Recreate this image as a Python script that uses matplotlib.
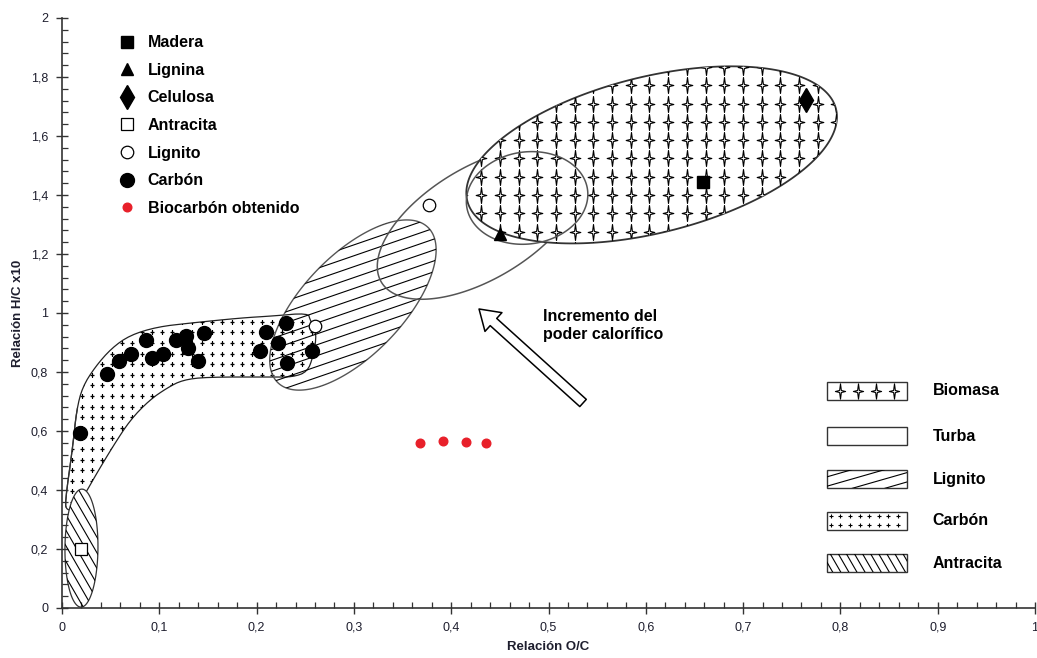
import numpy as np
import matplotlib
matplotlib.use("Agg")
import matplotlib.pyplot as plt
from matplotlib.patches import Polygon
from matplotlib.collections import LineCollection
from matplotlib.path import Path
from matplotlib.ticker import MultipleLocator, FuncFormatter

# ---------------------------------------------------------------- data
# Reference materials (O/C ratio, H/C ratio x10)
madera_oc, madera_hc = [0.659], [1.444]
lignina_oc, lignina_hc = [0.450], [1.268]
celulosa_oc, celulosa_hc = [0.765], [1.722]
antracita_oc, antracita_hc = [0.020], [0.200]
lignito_oc, lignito_hc = [0.377, 0.260], [1.366, 0.955]
carbon_oc = [0.019, 0.046, 0.059, 0.071, 0.086, 0.092, 0.104, 0.117, 0.127,
             0.129, 0.140, 0.146, 0.203, 0.210, 0.222, 0.230, 0.231, 0.257]
carbon_hc = [0.592, 0.793, 0.837, 0.860, 0.907, 0.847, 0.860, 0.908, 0.922,
             0.880, 0.837, 0.931, 0.872, 0.934, 0.899, 0.965, 0.832, 0.871]
# Biochar produced
biocarbon_oc = [0.368, 0.392, 0.415, 0.436]
biocarbon_hc = [0.558, 0.567, 0.563, 0.558]

# Fuel regions: ellipse centre in (O/C, H/C), semi-axes in px, tilt in deg
biomasa_center, biomasa_semi, biomasa_angle = (0.606, 1.536), (190, 78), 14
turba_center, turba_semi, turba_angle = (0.4296, 1.305), (115, 56), 31
turba_inner_center, turba_inner_semi, turba_inner_angle = (0.478, 1.390), (61, 46), 8
lignito_center, lignito_semi, lignito_angle = (0.299, 1.027), (108, 50), 46
antracita_center, antracita_semi, antracita_angle = (0.020, 0.203), (59, 16.5), 89.5

# Coal band outline (O/C, H/C)
carbon_band_oc = [0.005, 0.003, 0.011, 0.015, 0.021, 0.034, 0.051, 0.070, 0.098,
                  0.132, 0.183, 0.217, 0.253, 0.255, 0.262, 0.258, 0.252, 0.237,
                  0.217, 0.149, 0.124, 0.108, 0.090, 0.070, 0.052, 0.036, 0.026,
                  0.018, 0.013]
carbon_band_hc = [0.332, 0.356, 0.546, 0.671, 0.749, 0.817, 0.881, 0.925, 0.953,
                  0.966, 0.983, 0.990, 1.000, 0.976, 0.932, 0.851, 0.800, 0.783,
                  0.783, 0.783, 0.773, 0.746, 0.705, 0.637, 0.546, 0.458, 0.400,
                  0.356, 0.332]

region_labels = ["Biomasa", "Turba", "Lignito", "Carbón", "Antracita"]

# ---------------------------------------------------------------- figure
W, H = 1037, 658
fig = plt.figure(figsize=(W / 100, H / 100), dpi=100)
ax = fig.add_axes([62 / W, 50 / H, 973 / W, 590 / H])
ax.set_xlim(0, 1)
ax.set_ylim(0, 2)

pos = ax.get_position()
SX = pos.width * W / 1.0     # px per O/C unit
SY = pos.height * H / 2.0    # px per H/C unit

SANS = ["Liberation Sans", "DejaVu Sans"]
BOLD = dict(family=SANS, fontweight="bold")


def ellipse_xy(center, semi, angle, n=240):
    t = np.linspace(0, 2 * np.pi, n)
    a, b = semi
    phi = np.deg2rad(angle)
    u, v = a * np.cos(t), b * np.sin(t)
    dx = u * np.cos(phi) - v * np.sin(phi)
    dy = u * np.sin(phi) + v * np.cos(phi)
    return np.column_stack([center[0] + dx / SX, center[1] + dy / SY])


def chaikin(pts, it=2):
    for _ in range(it):
        p = np.asarray(pts)
        q = np.roll(p, -1, axis=0)
        pts = np.empty((2 * len(p), 2))
        pts[0::2] = 0.75 * p + 0.25 * q
        pts[1::2] = 0.25 * p + 0.75 * q
    return pts


def hatch(patch, verts, angle, spacing, lw=0.8, color="black", z=2):
    """Parallel lines at a display-space angle, clipped to a patch."""
    px = np.column_stack([verts[:, 0] * SX, verts[:, 1] * SY])
    c = px.mean(axis=0)
    r = np.max(np.hypot(*(px - c).T)) + spacing
    phi = np.deg2rad(angle)
    d = np.array([np.cos(phi), np.sin(phi)])
    nrm = np.array([-d[1], d[0]])
    segs = []
    for k in np.arange(-r, r + spacing, spacing):
        p0 = c + nrm * k - d * r
        p1 = c + nrm * k + d * r
        segs.append([(p0[0] / SX, p0[1] / SY), (p1[0] / SX, p1[1] / SY)])
    lc = LineCollection(segs, colors=color, linewidths=lw, zorder=z)
    ax.add_collection(lc)
    lc.set_clip_path(patch)
    return lc


def grid_points(verts, dx, dy, x0, y0):
    px = np.column_stack([verts[:, 0] * SX, verts[:, 1] * SY])
    xs = np.arange(x0 * SX - 60 * dx, px[:, 0].max() + dx, dx)
    xs = xs[xs >= px[:, 0].min() - dx]
    ys = np.arange(y0 * SY - 60 * dy, px[:, 1].max() + dy, dy)
    ys = ys[ys >= px[:, 1].min() - dy]
    gx, gy = np.meshgrid(xs, ys)
    return gx.ravel() / SX, gy.ravel() / SY


# four-pointed star used for the biomass pattern
STAR = Path([(0, 1.5), (0.17, 0.2), (1, 0), (0.17, -0.2), (0, -1.5),
             (-0.17, -0.2), (-1, 0), (-0.17, 0.2), (0, 1.5)],
            [Path.MOVETO] + [Path.LINETO] * 7 + [Path.CLOSEPOLY])


def star_fill(patch, verts, z):
    gx, gy = grid_points(verts, 18.7, 18.3, 0.450, 1.586)
    sc = ax.scatter(gx, gy, marker=STAR, s=11.5 ** 2, facecolor="white",
                    edgecolor="black", linewidths=0.8, zorder=z)
    sc.set_clip_path(patch)
    return sc


def plus_fill(patch, verts, z):
    gx, gy = grid_points(verts, 10.0, 10.6, 0.0, 0.0)
    sc = ax.scatter(gx, gy, marker="+", s=9, c="black", linewidths=0.9,
                    zorder=z)
    sc.set_clip_path(patch)
    return sc


# ---- coal band
band = chaikin(np.column_stack([carbon_band_oc, carbon_band_hc]), 2)
band_patch = Polygon(band, closed=True, facecolor="white", edgecolor="#222222",
                     lw=0.9, zorder=1)
ax.add_patch(band_patch)
plus_fill(band_patch, band, 1.1)

# ---- anthracite
ant = ellipse_xy(antracita_center, antracita_semi, antracita_angle)
ant_patch = Polygon(ant, closed=True, facecolor="white", edgecolor="#333333",
                    lw=0.9, zorder=1.5)
ax.add_patch(ant_patch)
hatch(ant_patch, ant, -60, 7.8, lw=0.8, z=1.6)
ax.add_patch(Polygon(band[:12], closed=False, fill=False, edgecolor="#333333",
                     lw=0.9, zorder=1.7))

# ---- lignite
lig = ellipse_xy(lignito_center, lignito_semi, lignito_angle)
lig_patch = Polygon(lig, closed=True, fill=False, edgecolor="#555555",
                    lw=1.0, zorder=2)
ax.add_patch(lig_patch)
hatch(lig_patch, lig, 19, 10.3, lw=0.8, z=2)

# ---- peat
tur = ellipse_xy(turba_center, turba_semi, turba_angle)
ax.add_patch(Polygon(tur, closed=True, fill=False, edgecolor="#555555",
                     lw=1.1, zorder=2.5))

# ---- biomass
bio = ellipse_xy(biomasa_center, biomasa_semi, biomasa_angle)
bio_patch = Polygon(bio, closed=True, facecolor="white", edgecolor="#333333",
                    lw=1.3, zorder=3)
ax.add_patch(bio_patch)
star_fill(bio_patch, bio, 3.1)
tin = ellipse_xy(turba_inner_center, turba_inner_semi, turba_inner_angle)
ax.add_patch(Polygon(tin, closed=True, fill=False, edgecolor="#555555",
                     lw=1.1, zorder=3.2))

# ---------------------------------------------------------------- samples
ax.plot(madera_oc, madera_hc, ls="none", marker="s", ms=8.5, color="black",
        label="Madera", zorder=5)
ax.plot(lignina_oc, lignina_hc, ls="none", marker="^", ms=8, color="black",
        label="Lignina", zorder=5)
ax.plot(celulosa_oc, celulosa_hc, ls="none", marker="d", ms=12, color="black",
        label="Celulosa", zorder=5)
ax.plot(antracita_oc, antracita_hc, ls="none", marker="s", ms=8.5,
        mfc="white", mec="black", mew=0.9, label="Antracita", zorder=5)
ax.plot(lignito_oc, lignito_hc, ls="none", marker="o", ms=9, mfc="white",
        mec="black", mew=0.9, label="Lignito", zorder=5)
ax.plot(carbon_oc, carbon_hc, ls="none", marker="o", ms=10, color="black",
        label="Carbón", zorder=5)
ax.plot(biocarbon_oc, biocarbon_hc, ls="none", marker="o", ms=6.2,
        color="#e8202a", label="Biocarbón obtenido", zorder=5)

leg = ax.legend(loc="upper left", bbox_to_anchor=(0.0586, 0.971),
                frameon=False, prop=dict(family=SANS, weight="bold", size=11.5),
                handlelength=1.0, handletextpad=0.8, labelspacing=0.79,
                borderpad=0, borderaxespad=0, numpoints=1)

# ---------------------------------------------------------------- arrow + note
ax.annotate("", xy=(0.4286, 1.0136), xytext=(0.5355, 0.695),
            arrowprops=dict(arrowstyle="simple,head_length=1.0,head_width=1.3,"
                                       "tail_width=0.5",
                            fc="white", ec="black", lw=1.1,
                            shrinkA=0, shrinkB=0, mutation_scale=14),
            zorder=6)
ax.text(0.494, 0.958, "Incremento del\npoder calorífico", ha="left",
        va="center", fontsize=11.5, linespacing=1.3, **BOLD)

# ---------------------------------------------------------------- region key
box_x0, box_x1, box_h = 0.786, 0.868, 18 / SY
key_y = [0.7356, 0.583, 0.437, 0.295, 0.152]
for name, yc in zip(region_labels, key_y):
    rv = np.array([[box_x0, yc - box_h / 2], [box_x1, yc - box_h / 2],
                   [box_x1, yc + box_h / 2], [box_x0, yc + box_h / 2]])
    rect = Polygon(rv, closed=True, facecolor="white", edgecolor="#333333",
                   lw=1.0, zorder=4)
    ax.add_patch(rect)
    if name == "Biomasa":
        xs = (box_x0 + box_x1) / 2 + np.array([-1.5, -0.5, 0.5, 1.5]) * 18 / SX
        ax.scatter(xs, [yc] * 4, marker=STAR, s=11 ** 2, facecolor="white",
                   edgecolor="black", linewidths=0.8, zorder=4.1)
    elif name == "Lignito":
        hatch(rect, rv, 16, 9.0, lw=0.8, z=4.1)
    elif name == "Carbón":
        xs = np.arange(box_x0 + 4 / SX, box_x1 - 2 / SX, 9.6 / SX)
        for dy in (-4.5, 4.5):
            ax.scatter(xs, np.full(len(xs), yc + dy / SY), marker="+", s=9,
                       c="black", linewidths=0.8, zorder=4.1)
    elif name == "Antracita":
        hatch(rect, rv, -60, 7.0, lw=0.8, z=4.1)
    ax.text(0.895, yc, name, ha="left", va="center", fontsize=11.5,
            zorder=4.2, **BOLD)

# ---------------------------------------------------------------- axes
for s in ("top", "right"):
    ax.spines[s].set_visible(False)
for s in ("left", "bottom"):
    ax.spines[s].set_color("#333333")
    ax.spines[s].set_linewidth(1.2)
    ax.spines[s].set_zorder(7)

comma = FuncFormatter(lambda v, p: ("%g" % round(v, 3)).replace(".", ","))
ax.xaxis.set_major_locator(MultipleLocator(0.1))
ax.xaxis.set_minor_locator(MultipleLocator(0.02))
ax.yaxis.set_major_locator(MultipleLocator(0.2))
ax.yaxis.set_minor_locator(MultipleLocator(0.04))
ax.xaxis.set_major_formatter(comma)
ax.yaxis.set_major_formatter(comma)
ax.tick_params(which="major", direction="inout", length=8, width=1.0,
               color="#333333", labelsize=9, labelcolor="#1e1e2e", pad=6)
ax.tick_params(which="minor", direction="in", length=4, width=0.9,
               color="#333333")
for lab in ax.get_xticklabels() + ax.get_yticklabels():
    lab.set_family(SANS)

ax.set_xlabel("Relación O/C", family=SANS, fontweight="bold", fontsize=9.5,
              color="#1e1e2e")
ax.set_ylabel("Relación H/C x10", family=SANS, fontweight="bold",
              fontsize=9.5, color="#1e1e2e")
ax.xaxis.set_label_coords(0.5, -(641 - 608) / SY / 2)
ax.yaxis.set_label_coords(-(62 - 24) / SX, 0.5)

fig.savefig("out.png", dpi=100)
